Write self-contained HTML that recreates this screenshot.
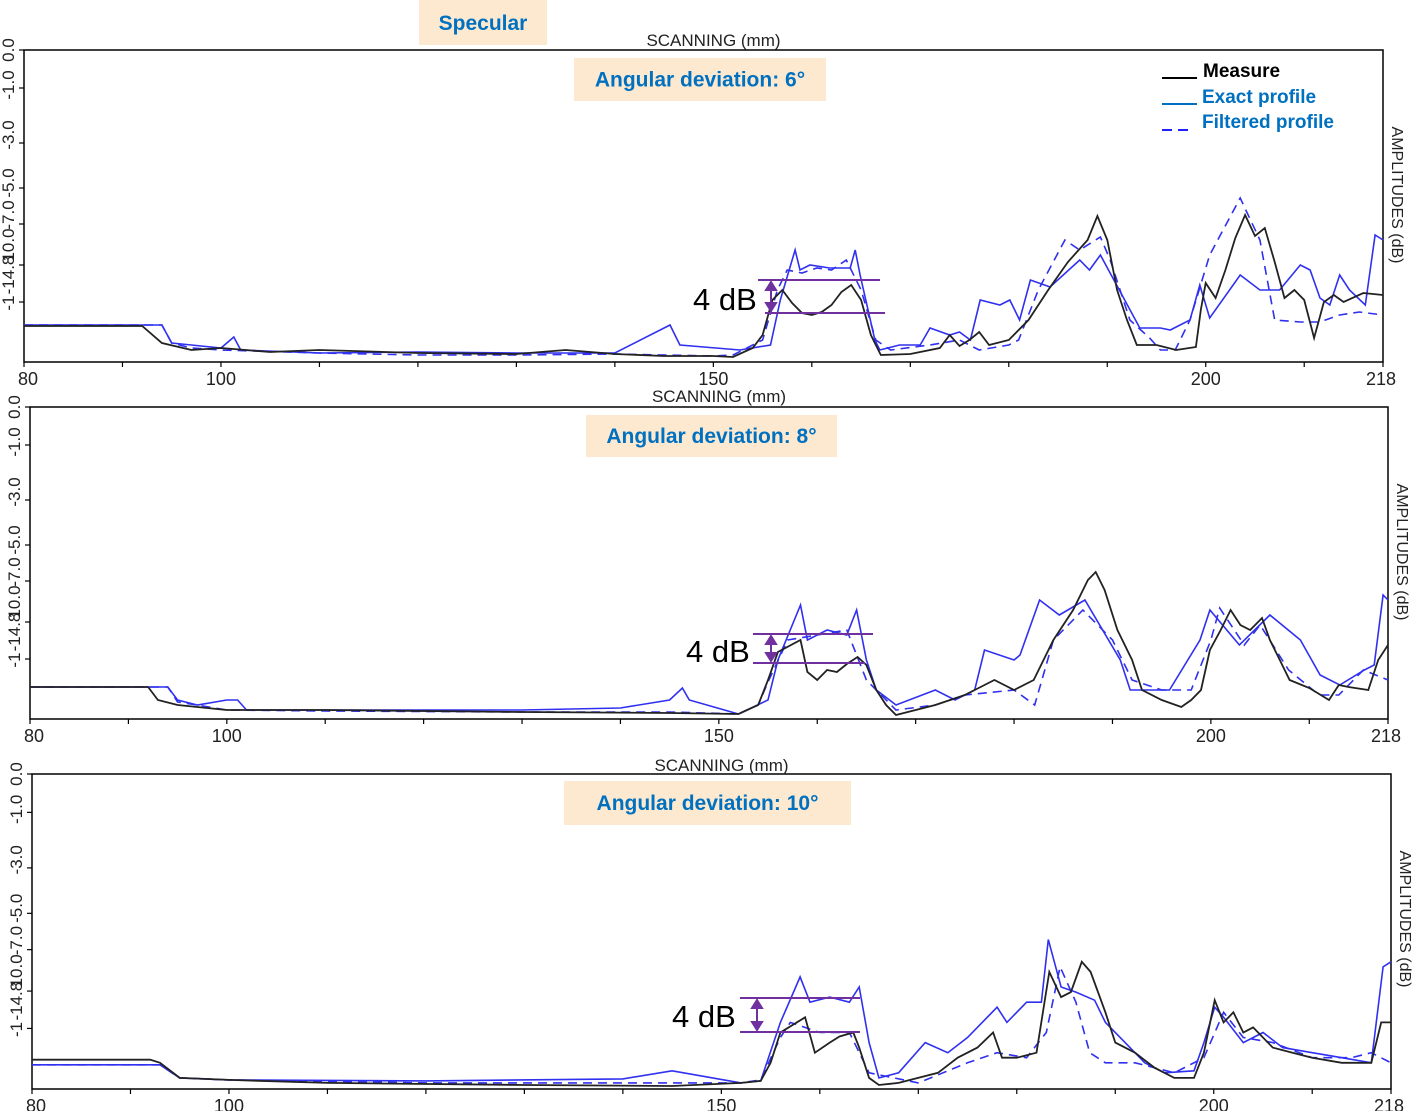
<!DOCTYPE html>
<html><head><meta charset="utf-8"><style>
html,body{margin:0;padding:0;background:#fff;}
svg{display:block;font-family:"Liberation Sans",sans-serif;}
.tl{font-family:"Liberation Sans",sans-serif;font-weight:bold;fill:#0070c0;font-size:21px;}
</style></head><body>
<svg id="chart" width="1414" height="1111" viewBox="0 0 1414 1111" xmlns="http://www.w3.org/2000/svg">
<rect x="419" y="0" width="128" height="45" fill="#fde9cf"/>
<text x="483" y="30" text-anchor="middle" class="tl">Specular</text>
<g>
<line x1="1162" y1="78" x2="1197" y2="78" stroke="#000" stroke-width="2"/>
<text x="1203" y="77" font-weight="bold" font-size="19" fill="#000">Measure</text>
<line x1="1162" y1="104" x2="1197" y2="104" stroke="#0070c0" stroke-width="2"/>
<text x="1202" y="103" font-weight="bold" font-size="19" fill="#0070c0">Exact profile</text>
<line x1="1162" y1="130" x2="1192" y2="130" stroke="#2020ff" stroke-width="2" stroke-dasharray="10,6"/>
<text x="1202" y="128" font-weight="bold" font-size="19" fill="#0070c0">Filtered profile</text>
</g>
</svg>
<script>
// Data: [scanning mm, amplitude dB]
const xTicks=[80,90,100,110,120,130,140,150,160,170,180,190,200,210,218];
const xLabels=[80,100,150,200,218];
const yTickVals=[0,-3.8,-9.3,-13.8,-17.4,-21.5,-25.2];
const yLabelText=["0.0","-1.0","-3.0","-5.0","-7.0","10.0","-14.8","-1"];
const yLabelPos=[0,-3.5,-8.5,-13.3,-16.5,-19.5,-22.5,-25.3];
const titles=["Angular deviation: 6°","Angular deviation: 8°","Angular deviation: 10°"];

const measure1=[[80,-27.6],[92,-27.6],[94,-29.3],[97,-30],[100,-29.8],[105,-30.2],[110,-30],[120,-30.3],[130,-30.4],[135,-30],[140,-30.4],[145,-30.6],[150,-30.6],[152,-30.7],[154,-29.8],[155,-28.5],[156,-25],[157,-24],[158,-25.3],[159,-26.3],[160,-26.5],[161,-26.2],[162,-25.5],[163,-24.2],[164,-23.5],[165,-25],[166,-28.5],[167,-30.5],[170,-30.4],[173,-29.8],[174,-28.5],[175,-29.6],[176,-29],[177,-28.2],[178,-29.5],[180,-29],[182,-27],[184,-24],[186,-21.2],[188,-19],[189,-16.6],[190,-19],[191,-24],[192,-27],[193,-29.5],[195,-29.5],[197,-30],[199,-29.7],[199.5,-26],[200,-23.3],[201,-24.8],[202,-22],[203,-18.8],[204,-16.5],[205,-18.6],[206,-17.8],[207,-21.2],[208,-24.8],[209,-24],[210,-25],[211,-28.8],[212,-25.2],[213,-24.5],[214,-25.2],[216,-24.3],[218,-24.5]];
const exact1=[[80,-27.5],[94,-27.5],[95,-29.3],[97,-29.5],[100,-29.8],[101.3,-28.7],[102,-30],[110,-30.3],[120,-30.2],[130,-30.3],[140,-30.3],[145.6,-27.5],[146.6,-29.5],[152.7,-30],[155.8,-29.5],[156.8,-25],[158.3,-20],[158.8,-22],[159.8,-21.5],[161.8,-21.8],[163.9,-21.8],[164.4,-20],[164.9,-22.5],[166.4,-29],[166.9,-30],[168.9,-29.5],[171,-29.5],[172,-27.8],[174,-28.5],[175,-28.2],[176.1,-29],[177.1,-25],[179.1,-25.5],[180.1,-25],[181.1,-27],[182.2,-23],[184.2,-23.7],[187.2,-21],[188.2,-22],[189.3,-20.5],[193.3,-27.8],[195.4,-27.8],[196.4,-28],[198.4,-27],[199.4,-23.5],[200.4,-26.8],[203.5,-22.5],[205.5,-24],[207.5,-24],[209.6,-21.5],[210.6,-22],[211.6,-24.8],[212.6,-25.5],[213.6,-22.5],[214.6,-24],[216.2,-25.5],[217.2,-18.5],[218,-19]];
const filtered1=[[80,-27.5],[94,-27.5],[95,-29.3],[97,-29.8],[100,-30],[110,-30.3],[120,-30.5],[130,-30.5],[140,-30.4],[150,-30.6],[152,-30.5],[155,-29],[156.5,-24],[157.5,-22],[159,-22.3],[160.5,-21.8],[162,-22],[163.5,-21],[165,-24],[166.5,-29],[168,-30],[172,-29.5],[175,-29],[177,-30],[180,-29.5],[181,-29],[183,-24],[185.7,-19],[187.2,-20],[189.3,-18.7],[190.3,-21],[192.3,-27],[194.3,-28.8],[195.4,-30],[196.9,-30],[198.4,-27],[200.4,-20.5],[203.5,-14.8],[205.5,-19],[207,-27],[209.6,-27.2],[211.6,-27.2],[213.6,-26.5],[215.6,-26.2],[218,-26.5]];

const measure2=[[80,-28],[92,-28],[93,-29.3],[95,-29.8],[100,-30.3],[110,-30.3],[130,-30.5],[145,-30.6],[152,-30.7],[154,-29.8],[155,-27.3],[156,-24.5],[158.3,-23.3],[159,-26.5],[160,-27.3],[161,-26.3],[162,-26.5],[163,-25.7],[164.1,-25],[165,-25.8],[166,-28.3],[167,-29.8],[168,-30.8],[172,-29.8],[175,-28.8],[176,-28.3],[178,-27.3],[180,-28.3],[182,-27.3],[184,-23.3],[186,-20.3],[187.5,-17.3],[188.3,-16.5],[189.2,-18.3],[190.5,-22.3],[192,-25.3],[193,-28.3],[195,-29.3],[197,-30],[198,-29.3],[199,-28.3],[199.9,-24.3],[201,-22.3],[202,-20.3],[203,-21.8],[204,-22.3],[205.2,-21.1],[206,-23.3],[207,-25.3],[208,-27.3],[210,-28.1],[212,-29.3],[213,-27.8],[214,-28],[216,-28.3],[217,-25.3],[218,-23.8]];
const exact2=[[80,-28],[94,-28],[95,-29.3],[97,-29.8],[100,-29.3],[101.1,-29.3],[102,-30.3],[130,-30.3],[140,-30.1],[145,-29.3],[146.3,-28.1],[147,-29.3],[152,-30.7],[155,-29.3],[156,-25.3],[158.3,-19.8],[159,-23.3],[161,-22.3],[163,-22.8],[164,-20.3],[165,-25.3],[166,-28.3],[168,-29.8],[172,-28.3],[174,-29.3],[176,-28.3],[177,-24.3],[180,-25.3],[180.6,-24.8],[182.6,-19.3],[184.6,-20.8],[187.2,-19.3],[190.8,-25.3],[191.8,-28.3],[195.8,-28.3],[198.9,-23.3],[199.9,-20.3],[202.9,-23.8],[206,-20.8],[209.1,-23.3],[211.1,-26.8],[213.1,-27.8],[215.6,-26.3],[216.6,-25.8],[217.5,-18.8],[218,-19.3]];
const filtered2=[[80,-28],[94,-28],[95,-29.5],[97,-29.8],[100,-30.3],[110,-30.4],[130,-30.5],[145,-30.5],[152,-30.7],[154,-29.8],[155,-27.5],[157,-23.3],[160,-22.8],[163,-22.3],[165,-27.3],[168,-30.3],[172,-29.8],[175,-28.8],[180,-28.3],[182.1,-29.8],[184,-23.3],[187,-20.3],[190,-23.3],[192,-27.3],[195,-28.3],[198,-28.3],[200,-23.3],[200.9,-20.1],[203.4,-23.8],[205,-21.8],[207.9,-26.3],[211,-28.8],[213,-28.8],[215.5,-26.3],[218,-27.3]];

const measure3=[[80,-28.3],[92,-28.3],[93,-28.6],[95,-30.1],[100,-30.3],[110,-30.6],[130,-30.8],[145,-30.9],[152,-30.6],[154,-30.4],[155,-28.6],[156,-25.6],[158.5,-24.1],[159.5,-27.6],[161,-26.6],[162,-26],[163.4,-25.6],[164,-27.1],[165,-30.1],[166,-30.8],[168,-30.6],[172,-29.6],[174,-28.1],[176,-27.1],[177.6,-25.6],[178.5,-28.1],[180,-28.1],[182,-27.6],[183.3,-19.6],[184.5,-22.1],[185.5,-21.6],[186.6,-18.6],[187.5,-19.6],[189,-23.6],[190,-26.6],[192,-27.6],[194,-29.1],[196,-30.1],[198,-30.1],[199,-27.6],[200.1,-22.4],[201,-24.6],[202,-23.6],[203,-25.6],[204,-25.1],[206,-27.1],[208,-27.6],[210,-28.1],[213,-28.6],[216,-28.6],[217,-24.6],[218,-24.6]];
const exact3=[[80,-28.8],[92,-28.8],[93,-28.8],[95,-30.1],[100,-30.3],[120,-30.4],[140,-30.2],[145,-29.4],[152,-30.6],[154,-30.4],[156,-24.6],[158,-20.1],[159,-22.6],[161,-22.1],[163,-22.6],[164,-21.1],[165,-26.6],[166,-30.1],[168,-29.6],[170.7,-26.6],[173,-27.6],[175,-26.1],[178,-23.1],[179,-24.6],[181,-22.6],[182.5,-22.6],[183.2,-16.4],[184.5,-21.1],[186,-21.6],[187.9,-22.4],[189,-24.6],[191,-26.6],[193,-28.6],[195,-29.6],[198,-29.4],[199,-26.6],[200.1,-23.1],[201,-24.1],[203,-26.6],[205,-25.6],[207,-27.1],[210,-27.6],[213,-28.1],[216,-28.6],[217.2,-19.1],[218,-18.6]];
const filtered3=[[80,-28.8],[92,-28.8],[93,-28.8],[95,-30.1],[100,-30.3],[120,-30.6],[140,-30.6],[152,-30.6],[154,-30.3],[156,-26.1],[157,-24.6],[160,-25.6],[163,-25.6],[165,-29.6],[170,-30.6],[175,-28.6],[178,-27.6],[181,-28.1],[183,-25.6],[184.4,-19.1],[186,-22.6],[187.4,-27.6],[189,-28.6],[192,-28.6],[196,-29.6],[199,-28.1],[201,-23.6],[203,-26.1],[206,-26.6],[210,-28.1],[214,-28.1],[216,-27.6],[218,-28.6]];

const measures=[measure1,measure2,measure3];
const exacts=[exact1,exact2,exact3];
const filtereds=[filtered1,filtered2,filtered3];

const panels=[
 {x0:24,x1:1383,y0:50,y1:362,scanY:46,title:{x:574,y:58,w:252,h:43},ann:{l1:[758,880,280],l2:[765,885,313],ax:771,tx:693,ty:310}},
 {x0:30,x1:1388,y0:407,y1:719,scanY:402,title:{x:586,y:415,w:251,h:42},ann:{l1:[753,873,634],l2:[753,865,663],ax:771,tx:686,ty:662}},
 {x0:32,x1:1391,y0:774,y1:1089,scanY:771,title:{x:564,y:781,w:287,h:44},ann:{l1:[740,860,998],l2:[740,860,1032],ax:757,tx:672,ty:1027}}
];
const NS="http://www.w3.org/2000/svg";
const svg=document.getElementById('chart');
function mk(tag,attrs,parent){const e=document.createElementNS(NS,tag);for(const k in attrs)e.setAttribute(k,attrs[k]);(parent||svg).appendChild(e);return e;}
const Y_MIN=-31.2,Y_MAX=0,X_MIN=80,X_MAX=218;
panels.forEach((p,i)=>{
 const xs=v=>p.x0+(v-X_MIN)/(X_MAX-X_MIN)*(p.x1-p.x0);
 const ys=v=>p.y0+(Y_MAX-v)/(Y_MAX-Y_MIN)*(p.y1-p.y0);
 const g=mk('g',{});
 
 
 const frame=mk('rect',{x:p.x0,y:p.y0,width:p.x1-p.x0,height:p.y1-p.y0,fill:'none',stroke:'#000','stroke-width':1.5},g);
 
 
 const sc=mk('text',{x:(p.x0+p.x1)/2+10,y:p.scanY,'text-anchor':'middle','font-size':17,fill:'#222'},g);
 sc.textContent='SCANNING (mm)';
 
 
 const amp=mk('text',{transform:`translate(${p.x1+9},${p.y0+145}) rotate(90)`,'text-anchor':'middle','font-size':16,fill:'#222'},g);
 amp.textContent='AMPLITUDES (dB)';
 
 
 xTicks.forEach(t=>{
  const tk=mk('line',{x1:xs(t),x2:xs(t),y1:p.y1,y2:p.y1+5,stroke:'#000','stroke-width':1.2},g);
  
  
 });
 xLabels.forEach(t=>{
  const lb=mk('text',{x:xs(t)+(t===218?-2:t===80?-6:0),y:p.y1+23,'text-anchor':t===80?'start':'middle','font-size':18,fill:'#222'},g);
  lb.textContent=String(t);
  
  
 });
 yTickVals.forEach(v=>{
  const tk=mk('line',{x1:p.x0-5,x2:p.x0,y1:ys(v),y2:ys(v),stroke:'#000','stroke-width':1.2},g);
  
  
 });
 yLabelText.forEach((s,j)=>{
  const lb=mk('text',{transform:`translate(${p.x0-10},${ys(yLabelPos[j])}) rotate(-90)`,'text-anchor':'middle','font-size':17,fill:'#222'},g);
  lb.textContent=s;
  
  
 });
 const path=d=>d.map((q,k)=>(k?'L':'M')+xs(q[0]).toFixed(1)+','+ys(q[1]).toFixed(1)).join('');
 const ex=mk('path',{d:path(exacts[i]),fill:'none',stroke:'#3030f0','stroke-width':1.6},g);
 
 
 const fl=mk('path',{d:path(filtereds[i]),fill:'none',stroke:'#3030f0','stroke-width':1.6,'stroke-dasharray':'9,6'},g);
 
 
 const ms=mk('path',{d:path(measures[i]),fill:'none',stroke:'#222','stroke-width':1.8},g);
 
 
 const tb=mk('rect',{x:p.title.x,y:p.title.y,width:p.title.w,height:p.title.h,fill:'#fde9cf'},g);
 
 
 const tt=mk('text',{x:p.title.x+p.title.w/2,y:p.title.y+p.title.h/2+7,'text-anchor':'middle',class:'tl'},g);
 tt.textContent=titles[i];
 
 
 const a=p.ann;
 const l1=mk('line',{x1:a.l1[0],x2:a.l1[1],y1:a.l1[2],y2:a.l1[2],stroke:'#7030a0','stroke-width':2},g);
 
 
 const l2=mk('line',{x1:a.l2[0],x2:a.l2[1],y1:a.l2[2],y2:a.l2[2],stroke:'#7030a0','stroke-width':2},g);
 
 
 const ar=mk('path',{d:`M${a.ax},${a.l1[2]+3}L${a.ax},${a.l2[2]-3}M${a.ax-5},${a.l1[2]+10}L${a.ax},${a.l1[2]+2}L${a.ax+5},${a.l1[2]+10}ZM${a.ax-5},${a.l2[2]-10}L${a.ax},${a.l2[2]-2}L${a.ax+5},${a.l2[2]-10}Z`,stroke:'#7030a0',fill:'#7030a0','stroke-width':2},g);
 
 
 const at=mk('text',{x:a.tx,y:a.ty,'font-size':31,fill:'#000'},g);
 at.textContent='4 dB';
 
 
});
</script>
</body></html>
